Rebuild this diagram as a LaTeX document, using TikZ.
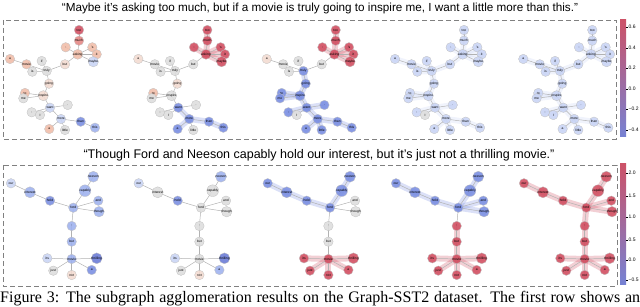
\documentclass[tikz,border=0pt]{standalone}
\usepackage{fontspec}
\setmainfont{Liberation Serif}
\setsansfont{Liberation Sans}
\usepackage{tikz}
\usetikzlibrary{positioning}
\pgfdeclarelayer{bands}
\pgfdeclarelayer{edges}
\pgfsetlayers{bands,edges,main}
% coolwarm-like node colours, 0 = strong blue ... 4 = grey ... 8 = strong red
\definecolor{c0}{RGB}{108,124,214}
\definecolor{c1}{RGB}{124,144,226}
\definecolor{c2}{RGB}{160,178,238}
\definecolor{c3}{RGB}{202,213,245}
\definecolor{c4}{RGB}{222,222,222}
\definecolor{c5}{RGB}{243,220,210}
\definecolor{c6}{RGB}{241,190,170}
\definecolor{c7}{RGB}{230,138,135}
\definecolor{c8}{RGB}{210,82,100}
\definecolor{cbred}{RGB}{204,82,104}
\definecolor{cbmid}{RGB}{234,234,234}
\definecolor{cbblue}{RGB}{118,130,211}
\definecolor{mgframe}{RGB}{128,128,128}
\tikzset{
  tok/.style={circle, draw=black!25, line width=0.3pt, fill opacity=0.9,
    text opacity=1, minimum size=9.5pt, inner sep=0pt,
    font=\fontsize{3.3}{4}\sffamily},
  link/.style={draw=gray!60, line width=0.5pt},
  band/.style={line width=6pt, line cap=round, opacity=0.28},
  frame/.style={draw=mgframe, dash pattern=on 5pt off 3pt, line width=0.8pt},
  quote/.style={inner sep=0pt},
  tick/.style={font=\fontsize{5}{6}\sffamily, anchor=west, inner sep=0pt}
}
% ── Sentence graphs: name/label/x/y (first panel) and edges ───────────────
\def\nodesA{too/too/79/30, much/much/79/40.7, c1/{,}/65.7/47.3,
  s/'s/92.3/47.3, asking/asking/77.7/54.3, it/it/96.7/54.3,
  maybe/maybe/93.3/61.7, a1/a/10/59, movie/movie/26.5/64.3, if/if/41.7/61,
  but/but/65/64.3, is/is/32.3/71.7, truly/truly/46.7/71, going/going/49/83.7,
  to/to/25/93, me/me/23.3/98.3, inspire/inspire/43.3/95.7, want/want/50/107.7,
  dot/./67.7/105, c2/{,}/31.7/112.3, I/I/40/115, more/more/61/119,
  than/than/80.7/121.7, this/this/95/127.7, a2/a/49.3/129, little/little/65/130}
\def\edgesA{too/much, much/asking, c1/asking, s/asking, asking/it, asking/maybe,
  asking/but, but/truly, a1/movie, movie/truly, if/truly, is/truly,
  truly/going, going/inspire, to/inspire, me/inspire, inspire/want,
  want/dot, want/c2, want/I, want/more, more/than, than/this, more/a2,
  more/little}
\def\nodesB{our/our/11/183.3, interest/interest/30/192.3, hold/hold/50/200.7,
  neeson/neeson/93.3/176.7, capably/capably/85/190.7, ford/ford/73.3/207.7,
  and/and/98.3/200.7, though/though/99/211.7, comma/{,}/71.7/226,
  but/but/71.7/241.7, its/its/47.3/258.3, movie/movie/71.7/259,
  thrilling/thrilling/96.7/258.3, just/just/53.3/270.7, not/not/71.7/275,
  a/a/91.7/270}
\def\edgesB{our/interest, interest/hold, hold/ford, neeson/capably,
  capably/ford, ford/and, ford/though, ford/comma, comma/but, but/movie,
  movie/its, movie/thrilling, movie/just, movie/not, movie/a}
% #1 tag, #2 x shift, #3 nodes, #4 edges, #5 colour codes
\newcommand{\tokgraph}[5]{%
  \begin{scope}[xshift=#2pt]
    \foreach \nm/\lab/\x/\y [count=\i from 0] in #3 {
      \pgfmathtruncatemacro{\k}{{#5}[\i]}
      \node[tok, fill=c\k] (#1-\nm) at (\x,\y) {\lab};
    }
  \end{scope}
  \begin{pgfonlayer}{edges}
    \foreach \a/\b in #4 \draw[link] (#1-\a.center) -- (#1-\b.center);
  \end{pgfonlayer}}
% #1 tag, #2 colour, #3 edges
\newcommand{\bands}[3]{%
  \begin{pgfonlayer}{bands}
    \foreach \a/\b in #3 \draw[band, draw=#2] (#1-\a.center) -- (#1-\b.center);
  \end{pgfonlayer}}
\begin{document}
\begin{tikzpicture}[x=1pt, y=-1pt]
  \useasboundingbox (0,0) rectangle (640,307);

  % ── Quotes and frames ─────────────────────────────────────────────────────
  \node[quote, font=\fontsize{11.7}{14}\sffamily] (qA) at (320,8)
    {“Maybe it’s asking too much, but if a movie is truly going to inspire me, I want a little more than this.”};
  \node[quote, font=\fontsize{12.5}{14}\sffamily] (qB) at (319,155)
    {“Though Ford and Neeson capably hold our interest, but it’s just not a thrilling movie.”};
  \draw[frame] (3,20) rectangle (616,139);
  \draw[frame] (3,165) rectangle (617,286);

  % ── Row 1 ─────────────────────────────────────────────────────────────────
  \tokgraph{A1}{0}{\nodesA}{\edgesA}
    {8,7,6,6,6,6,3,6,6,4,5,4,4,5,6,4,5,3,4,4,4,3,1,2,6,4}
  \tokgraph{A2}{128.3}{\nodesA}{\edgesA}
    {8,8,8,8,8,8,8,5,4,4,4,4,4,5,6,4,4,1,4,4,4,1,1,1,1,4}
  \tokgraph{A3}{256.7}{\nodesA}{\edgesA}
    {8,8,8,8,8,8,8,5,4,4,4,4,1,1,1,1,1,1,1,1,4,1,1,1,1,1}
  \tokgraph{A4}{385}{\nodesA}{\edgesA}
    {3,3,3,3,3,3,3,3,3,3,3,3,3,3,3,3,3,3,3,3,4,3,3,3,3,3}
  \tokgraph{A5}{513.3}{\nodesA}{\edgesA}
    {3,3,3,3,3,3,3,3,3,3,3,3,3,3,3,3,3,3,3,3,3,3,3,3,3,3}
  \bands{A2}{c8}{{too/much, much/asking, c1/asking, s/asking, asking/it, asking/maybe}}
  \bands{A2}{c1}{{want/more, more/than, than/this, more/a2}}
  \bands{A3}{c8}{{too/much, much/asking, c1/asking, s/asking, asking/it, asking/maybe}}
  \bands{A3}{c1}{{truly/going, going/inspire, to/inspire, me/inspire,
    inspire/want, want/dot, want/c2, want/more, more/than, than/this,
    more/a2, more/little}}
  \bands{A4}{c3}{{too/much, much/asking, c1/asking, s/asking, asking/it,
    asking/maybe, asking/but, but/truly, a1/movie, movie/truly, if/truly,
    is/truly, truly/going, going/inspire, to/inspire, me/inspire,
    inspire/want, want/dot, want/c2, want/more, more/than, than/this,
    more/a2, more/little}}
  \bands{A5}{c3}{\edgesA}

  % ── Row 2 ─────────────────────────────────────────────────────────────────
  \tokgraph{B1}{0}{\nodesB}{\edgesB}
    {3,2,1,2,2,2,2,2,2,2,3,2,0,4,5,1}
  \tokgraph{B2}{127.7}{\nodesB}{\edgesB}
    {3,4,1,2,4,4,4,4,4,4,3,4,0,4,5,2}
  \tokgraph{B3}{256.7}{\nodesB}{\edgesB}
    {1,1,1,1,1,1,4,4,4,4,8,8,8,8,8,8}
  \tokgraph{B4}{385}{\nodesB}{\edgesB}
    {1,1,1,1,1,1,1,1,8,8,8,8,8,8,8,8}
  \tokgraph{B5}{513}{\nodesB}{\edgesB}
    {8,8,8,8,8,8,8,8,8,8,8,8,8,8,8,8}
  \bands{B3}{c1}{{our/interest, interest/hold, hold/ford, neeson/capably, capably/ford}}
  \bands{B3}{c8}{{movie/its, movie/thrilling, movie/just, movie/not, movie/a}}
  \bands{B4}{c1}{{our/interest, interest/hold, hold/ford, neeson/capably,
    capably/ford, ford/and, ford/though}}
  \bands{B4}{c8}{{comma/but, but/movie, movie/its, movie/thrilling,
    movie/just, movie/not, movie/a}}
  \bands{B5}{c8}{\edgesB}

  % ── Colour bars ───────────────────────────────────────────────────────────
  \shade[top color=cbred, middle color=cbmid, bottom color=cbblue]
    (620,20) rectangle (626,137);
  \foreach \v/\yy [count=\j] in {0.6/27, 0.4/48, 0.2/68, 0.0/89, −0.2/109, −0.4/130} {
    \draw[line width=0.3pt] (626,\yy) -- (627.5,\yy);
    \node[tick] (tA\j) at (628.5,\yy) {\v};
  }
  \shade[top color=cbred, middle color=cbmid, bottom color=cbblue]
    (620,164) rectangle (626,284);
  \foreach \v/\yy [count=\j] in {2.0/173, 1.5/196, 1.0/217, 0.5/240, 0.0/260, −0.5/280} {
    \draw[line width=0.3pt] (626,\yy) -- (627.5,\yy);
    \node[tick] (tB\j) at (628.5,\yy) {\v};
  }

  % ── Caption ───────────────────────────────────────────────────────────────
  \node[font=\fontsize{16}{19}\selectfont, anchor=base west, inner sep=0pt]
    (cap) at (0,302.5)
    {\makebox[640pt][s]{Figure 3: The subgraph agglomeration results on the Graph-SST2 dataset. The first row shows an}};
\end{tikzpicture}
\end{document}
